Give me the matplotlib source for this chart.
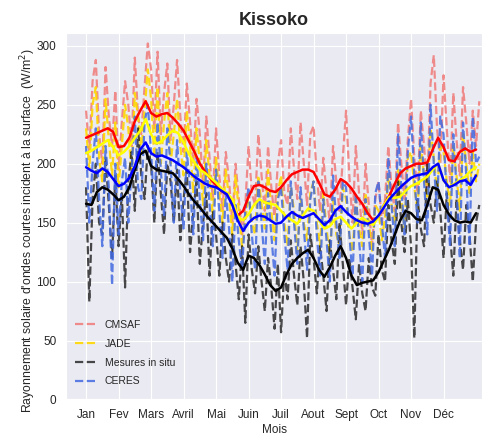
import numpy as np
import matplotlib
matplotlib.use("Agg")
import matplotlib.pyplot as plt
import seaborn as sns

# jours de l'annee
jours = np.arange(0, 364, 3)          # valeurs brutes (pas de 3 jours)
jours_lisse = np.arange(0, 361, 5)    # moyennes glissantes (pas de 5 jours)

mois = ['Jan', 'Fev', 'Mars', 'Avril', 'Mai', 'Juin', 'Juil', 'Aout', 'Sept', 'Oct', 'Nov', 'Déc']
mois_pos = [0, 30, 60, 90, 120, 150, 180, 210, 240, 270, 300, 330]

# valeurs brutes
cmsaf = [245, 210, 270, 288, 225, 200, 282, 240, 215, 262,
         195, 235, 270, 250, 215, 290, 240, 225, 265, 302,
         280, 230, 295, 225, 260, 285, 220, 250, 288, 240,
         210, 268, 235, 200, 255, 225, 180, 240, 205, 170,
         230, 190, 160, 210, 185, 150, 200, 170, 140, 165,
         215, 175, 165, 225, 190, 160, 215, 180, 155, 200,
         220, 175, 165, 230, 195, 170, 235, 200, 165, 225,
         232, 190, 160, 205, 175, 150, 215, 185, 160, 205,
         245, 190, 150, 215, 175, 140, 200, 165, 130, 170,
         185, 150, 170, 215, 180, 160, 235, 200, 170, 220,
         255, 205, 175, 245, 215, 180, 268, 292, 230, 200,
         275, 230, 185, 260, 220, 190, 265, 235, 200, 245, 215, 253]
jade = [230, 195, 250, 265, 205, 185, 255, 220, 190, 235,
        180, 215, 250, 230, 190, 260, 240, 210, 245, 280,
        255, 205, 265, 200, 235, 260, 200, 225, 255, 215,
        190, 245, 215, 175, 230, 200, 165, 220, 190, 155,
        205, 175, 150, 195, 170, 140, 190, 160, 130, 150,
        175, 150, 140, 190, 165, 145, 195, 160, 135, 175,
        190, 150, 130, 180, 160, 125, 170, 150, 135, 175,
        185, 150, 130, 175, 145, 120, 170, 140, 130, 180,
        170, 140, 125, 170, 145, 130, 175, 150, 125, 165,
        160, 135, 155, 190, 165, 150, 195, 170, 145, 205,
        210, 180, 160, 215, 190, 170, 230, 205, 175, 215,
        210, 185, 165, 215, 190, 160, 225, 200, 175, 210, 185, 200]
insitu = [180, 83, 170, 200, 150, 140, 205, 165, 120, 190,
          130, 175, 95, 185, 210, 160, 230, 190, 170, 215,
          200, 150, 210, 175, 140, 200, 185, 150, 195, 135,
          170, 195, 125, 160, 185, 115, 150, 175, 105, 160,
          140, 105, 150, 120, 100, 140, 115, 85, 130, 65,
          140, 110, 90, 130, 100, 75, 120, 95, 60, 115,
          57, 110, 85, 135, 105, 80, 130, 100, 52, 140,
          120, 90, 130, 105, 75, 135, 110, 85, 150, 115,
          80, 120, 95, 68, 115, 90, 75, 120, 95, 88,
          140, 110, 100, 165, 135, 115, 185, 150, 125, 170,
          130, 52, 170, 145, 130, 200, 165, 150, 185, 160,
          120, 175, 140, 105, 170, 135, 110, 165, 140, 100, 150, 165]
ceres = [215, 150, 200, 230, 170, 130, 215, 180, 97, 200,
         140, 185, 205, 150, 195, 240, 180, 170, 235, 250,
         210, 160, 235, 195, 155, 230, 200, 150, 220, 175,
         145, 210, 180, 140, 205, 170, 135, 200, 165, 130,
         195, 160, 120, 175, 145, 100, 165, 135, 110, 160,
         180, 140, 110, 185, 150, 115, 175, 140, 105, 170,
         180, 140, 110, 185, 150, 115, 180, 145, 110, 170,
         185, 140, 105, 170, 135, 100, 190, 150, 120, 185,
         180, 140, 105, 175, 135, 100, 170, 140, 105, 175,
         185, 150, 120, 205, 165, 130, 225, 180, 140, 210,
         240, 190, 150, 235, 185, 140, 250, 200, 160, 240,
         225, 170, 130, 225, 180, 120, 235, 190, 130, 240, 200, 206]

# moyennes glissantes
cmsaf_lisse = [222, 224, 226, 228, 230, 227, 214, 215, 222, 236, 245, 253, 243, 240, 242, 243, 239, 234, 228, 219,
               210, 200, 193, 187, 182, 177, 174, 168, 156, 160, 172, 181, 182, 180, 177, 176, 180, 186, 191, 193,
               195, 195, 193, 184, 174, 172, 178, 187, 184, 179, 172, 166, 158, 152, 155, 165, 173, 183, 192, 196,
               198, 200, 200, 201, 212, 222, 214, 203, 202, 210, 213, 210, 212]
jade_lisse = [209, 211, 214, 217, 220, 214, 207, 210, 215, 222, 228, 238, 225, 217, 219, 224, 228, 226, 218, 208,
              201, 195, 192, 188, 184, 179, 175, 170, 155, 152, 157, 165, 170, 167, 166, 165, 160, 155, 152, 149,
              156, 162, 160, 152, 145, 147, 153, 155, 150, 145, 150, 154, 151, 148, 155, 165, 172, 171, 172, 177,
              181, 183, 186, 189, 195, 200, 186, 180, 183, 186, 189, 194, 197]
insitu_lisse = [166, 165, 176, 180, 178, 174, 169, 172, 180, 195, 208, 211, 198, 195, 194, 193, 192, 187, 181, 174,
                168, 163, 157, 152, 147, 142, 137, 128, 116, 110, 122, 120, 114, 106, 97, 92, 95, 106, 115, 120,
                124, 127, 120, 110, 104, 112, 122, 130, 120, 105, 97, 99, 100, 101, 108, 118, 128, 140, 152, 160,
                158, 153, 152, 165, 180, 178, 165, 157, 152, 150, 151, 150, 158]
ceres_lisse = [197, 194, 192, 196, 193, 187, 181, 183, 188, 198, 212, 218, 209, 206, 207, 205, 203, 200, 197, 193,
               189, 186, 183, 181, 180, 177, 174, 165, 152, 143, 150, 154, 156, 155, 152, 149, 150, 155, 159, 156,
               154, 156, 158, 153, 148, 152, 160, 164, 159, 155, 152, 150, 149, 151, 156, 163, 170, 175, 180, 184,
               188, 190, 191, 192, 197, 200, 186, 180, 182, 185, 186, 182, 190]

sns.set_style("darkgrid")
plt.rcParams['font.family'] = ['Liberation Sans', 'DejaVu Sans']

fig = plt.figure(figsize=(4.82, 4.38), dpi=100)
ax = fig.add_axes([0.137, 0.088, 0.863, 0.837])

ax.plot(jours, cmsaf, '--', color='lightcoral', lw=1.6, alpha=0.9, label='CMSAF')
ax.plot(jours, jade, '--', color='gold', lw=1.6, alpha=0.9, label='JADE')
ax.plot(jours, insitu, '--', color='black', lw=1.6, alpha=0.7, label='Mesures in situ')
ax.plot(jours, ceres, '--', color='royalblue', lw=1.6, alpha=0.85, label='CERES')

ax.plot(jours_lisse, cmsaf_lisse, '-', color='red', lw=1.8)
ax.plot(jours_lisse, jade_lisse, '-', color='yellow', lw=1.8)
ax.plot(jours_lisse, insitu_lisse, '-', color='black', lw=1.8)
ax.plot(jours_lisse, ceres_lisse, '-', color='blue', lw=1.8)

ax.set_xlim(-18.5, 365.5)
ax.set_ylim(0, 311)
ax.set_xticks(mois_pos)
ax.set_xticklabels(mois)
ax.set_yticks([0, 50, 100, 150, 200, 250, 300])
for lab in ax.get_xticklabels() + ax.get_yticklabels():
    lab.set_family(['Liberation Sans Narrow', 'Liberation Sans'])
    lab.set_fontsize(8.5)
ax.set_xlabel('Mois', fontsize=8.5, labelpad=2)
ax.set_ylabel("Rayonnement solaire d'ondes courtes incident à la surface  (W/m$^2$)", fontsize=8.8)
ax.yaxis.set_label_coords(-0.068, 0.46)
ax.set_title('Kissoko', fontsize=13, fontweight='bold')

ax.legend(loc='lower left', bbox_to_anchor=(0.0, 0.01), frameon=False, fontsize=7.5, labelspacing=0.85,
          handlelength=2.0)

fig.savefig('out.png', dpi=100)
